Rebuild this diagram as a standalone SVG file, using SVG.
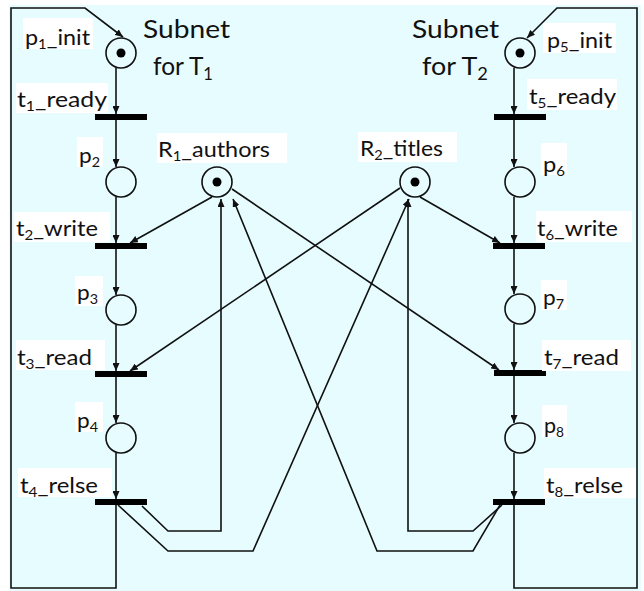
<svg xmlns="http://www.w3.org/2000/svg" width="644" height="591" viewBox="0 0 644 591">
  <style>
    .arc { fill: none; stroke: #111; stroke-width: 1.6; stroke-linejoin: miter; }
    .place { fill: none; stroke: #111; stroke-width: 1.6; }
    .token { fill: #000; }
    .bar { fill: #000; }
    .lbl-bg { fill: #fff; }
    .lbl { font-family: Lato, "Open Sans", "Liberation Sans", sans-serif; font-size: 22px; fill: #111; }
    .title { font-family: Lato, "Open Sans", "Liberation Sans", sans-serif; font-size: 25px; fill: #111; }
    .sub { font-size: 14px; }
    .tsub { font-size: 17px; }
  </style>
  <defs>
    <marker id="arrow" markerUnits="userSpaceOnUse" markerWidth="9" markerHeight="7" refX="8" refY="3.5" orient="auto">
      <path d="M0,0 L8,3.5 L0,7 z" fill="#111"/>
    </marker>
  </defs>

  <rect x="9" y="5" width="632" height="586" fill="#e6fcff"/>

  <!-- connectors -->
  <g id="connectors" class="arc" marker-end="url(#arrow)">
    <!-- feedback loops returning to the init places -->
    <path d="M116,505 L116,588 L11,588 L11,8 L85,8 L123,37"/>
    <path d="M514,505 L514,588 L637,588 L637,8 L557,8 L527,38"/>
    <!-- subnet T1 -->
    <path d="M116,68 L116,114"/>
    <path d="M116,120 L116,167"/>
    <path d="M116,197 L116,243"/>
    <path d="M116,249 L116,295"/>
    <path d="M116,325 L116,371"/>
    <path d="M116,377 L116,423"/>
    <path d="M116,453 L116,499"/>
    <!-- subnet T2 -->
    <path d="M514,68 L514,114"/>
    <path d="M514,120 L514,167"/>
    <path d="M514,197 L514,243"/>
    <path d="M514,249 L514,294"/>
    <path d="M514,324 L514,370"/>
    <path d="M514,376 L514,423"/>
    <path d="M514,453 L514,499"/>
    <!-- resource acquisition -->
    <path d="M212,197 L130,243"/>
    <path d="M232,189 L499,370"/>
    <path d="M420,197 L500,243"/>
    <path d="M400,188 L130,371"/>
    <!-- resource release -->
    <path d="M142,506 L168,531 L221,531 L221,199"/>
    <path d="M118,505 L168,551 L253,551 L409,199"/>
    <path d="M502,505 L473,531 L408,531 L408,199"/>
    <path d="M500,505 L473,551 L377,551 L233,199"/>
  </g>

  <!-- titles -->
  <g id="title-t1">
    <text class="title" x="143" y="38" textLength="87" lengthAdjust="spacingAndGlyphs">Subnet</text>
    <text class="title" x="153" y="75" textLength="60" lengthAdjust="spacingAndGlyphs">for T<tspan class="tsub" dy="5">1</tspan></text>
  </g>
  <g id="title-t2">
    <text class="title" x="412" y="38" textLength="87" lengthAdjust="spacingAndGlyphs">Subnet</text>
    <text class="title" x="422" y="75" textLength="66" lengthAdjust="spacingAndGlyphs">for T<tspan class="tsub" dy="5">2</tspan></text>
  </g>

  <!-- places -->
  <g id="p1_init">
    <circle class="place" cx="121" cy="53" r="15"/><circle class="token" cx="121" cy="53" r="4.5"/>
    <rect class="lbl-bg" x="23" y="18" width="70" height="31"/>
    <text class="lbl" x="25" y="45" textLength="65" lengthAdjust="spacingAndGlyphs">p<tspan class="sub" dy="4">1</tspan><tspan dy="-4">_init</tspan></text>
  </g>
  <g id="p2">
    <circle class="place" cx="121" cy="182" r="15"/>
    <rect class="lbl-bg" x="77" y="137" width="26" height="30"/>
    <text class="lbl" x="79" y="163" textLength="21" lengthAdjust="spacingAndGlyphs">p<tspan class="sub" dy="4">2</tspan></text>
  </g>
  <g id="p3">
    <circle class="place" cx="121" cy="310" r="15"/>
    <rect class="lbl-bg" x="75" y="276" width="28" height="30"/>
    <text class="lbl" x="77" y="300" textLength="21" lengthAdjust="spacingAndGlyphs">p<tspan class="sub" dy="4">3</tspan></text>
  </g>
  <g id="p4">
    <circle class="place" cx="121" cy="438" r="15"/>
    <rect class="lbl-bg" x="75" y="402" width="28" height="30"/>
    <text class="lbl" x="77" y="428" textLength="21" lengthAdjust="spacingAndGlyphs">p<tspan class="sub" dy="4">4</tspan></text>
  </g>
  <g id="p5_init">
    <circle class="place" cx="520" cy="53" r="15"/><circle class="token" cx="520" cy="53" r="4.5"/>
    <rect class="lbl-bg" x="543" y="23" width="73" height="30"/>
    <text class="lbl" x="547" y="48" textLength="65" lengthAdjust="spacingAndGlyphs">p<tspan class="sub" dy="4">5</tspan><tspan dy="-4">_init</tspan></text>
  </g>
  <g id="p6">
    <circle class="place" cx="520" cy="182" r="15"/>
    <rect class="lbl-bg" x="541" y="143" width="26" height="32"/>
    <text class="lbl" x="543" y="172" textLength="22" lengthAdjust="spacingAndGlyphs">p<tspan class="sub" dy="4">6</tspan></text>
  </g>
  <g id="p7">
    <circle class="place" cx="520" cy="309" r="15"/>
    <rect class="lbl-bg" x="541" y="280" width="26" height="30"/>
    <text class="lbl" x="543" y="305" textLength="21" lengthAdjust="spacingAndGlyphs">p<tspan class="sub" dy="4">7</tspan></text>
  </g>
  <g id="p8">
    <circle class="place" cx="520" cy="438" r="15"/>
    <rect class="lbl-bg" x="542" y="405" width="25" height="32"/>
    <text class="lbl" x="544" y="433" textLength="20" lengthAdjust="spacingAndGlyphs">p<tspan class="sub" dy="4">8</tspan></text>
  </g>
  <g id="R1_authors">
    <circle class="place" cx="217" cy="182" r="15"/><circle class="token" cx="217" cy="182" r="4.5"/>
    <rect class="lbl-bg" x="157" y="133" width="130" height="30"/>
    <text class="lbl" x="158" y="157" textLength="112" lengthAdjust="spacingAndGlyphs">R<tspan class="sub" dy="4">1</tspan><tspan dy="-4">_authors</tspan></text>
  </g>
  <g id="R2_titles">
    <circle class="place" cx="415" cy="182" r="15"/><circle class="token" cx="415" cy="182" r="4.5"/>
    <rect class="lbl-bg" x="358" y="132" width="99" height="30"/>
    <text class="lbl" x="360" y="156" textLength="83" lengthAdjust="spacingAndGlyphs">R<tspan class="sub" dy="4">2</tspan><tspan dy="-4">_titles</tspan></text>
  </g>

  <!-- transitions -->
  <g id="t1_ready">
    <rect class="bar" x="95" y="114" width="52" height="6"/>
    <rect class="lbl-bg" x="16" y="83" width="92" height="30"/>
    <text class="lbl" x="17" y="107" textLength="90" lengthAdjust="spacingAndGlyphs">t<tspan class="sub" dy="4">1</tspan><tspan dy="-4">_ready</tspan></text>
  </g>
  <g id="t2_write">
    <rect class="bar" x="95" y="243" width="52" height="6"/>
    <rect class="lbl-bg" x="14" y="212" width="96" height="30"/>
    <text class="lbl" x="16" y="236" textLength="82" lengthAdjust="spacingAndGlyphs">t<tspan class="sub" dy="4">2</tspan><tspan dy="-4">_write</tspan></text>
  </g>
  <g id="t3_read">
    <rect class="bar" x="95" y="371" width="52" height="6"/>
    <rect class="lbl-bg" x="16" y="340" width="89" height="30"/>
    <text class="lbl" x="17" y="365" textLength="75" lengthAdjust="spacingAndGlyphs">t<tspan class="sub" dy="4">3</tspan><tspan dy="-4">_read</tspan></text>
  </g>
  <g id="t4_relse">
    <rect class="bar" x="95" y="499" width="52" height="6"/>
    <rect class="lbl-bg" x="18" y="468" width="94" height="29"/>
    <text class="lbl" x="20" y="493" textLength="78" lengthAdjust="spacingAndGlyphs">t<tspan class="sub" dy="4">4</tspan><tspan dy="-4">_relse</tspan></text>
  </g>
  <g id="t5_ready">
    <rect class="bar" x="494" y="114" width="52" height="6"/>
    <rect class="lbl-bg" x="527" y="79" width="90" height="31"/>
    <text class="lbl" x="529" y="104" textLength="87" lengthAdjust="spacingAndGlyphs">t<tspan class="sub" dy="4">5</tspan><tspan dy="-4">_ready</tspan></text>
  </g>
  <g id="t6_write">
    <rect class="bar" x="493" y="243" width="52" height="6"/>
    <rect class="lbl-bg" x="536" y="211" width="96" height="31"/>
    <text class="lbl" x="537" y="236" textLength="81" lengthAdjust="spacingAndGlyphs">t<tspan class="sub" dy="4">6</tspan><tspan dy="-4">_write</tspan></text>
  </g>
  <g id="t7_read">
    <rect class="bar" x="494" y="370" width="52" height="6"/>
    <rect class="lbl-bg" x="542" y="340" width="89" height="31"/>
    <text class="lbl" x="544" y="365" textLength="75" lengthAdjust="spacingAndGlyphs">t<tspan class="sub" dy="4">7</tspan><tspan dy="-4">_read</tspan></text>
  </g>
  <g id="t8_relse">
    <rect class="bar" x="493" y="499" width="52" height="6"/>
    <rect class="lbl-bg" x="544" y="468" width="92" height="30"/>
    <text class="lbl" x="546" y="493" textLength="77" lengthAdjust="spacingAndGlyphs">t<tspan class="sub" dy="4">8</tspan><tspan dy="-4">_relse</tspan></text>
  </g>
</svg>
